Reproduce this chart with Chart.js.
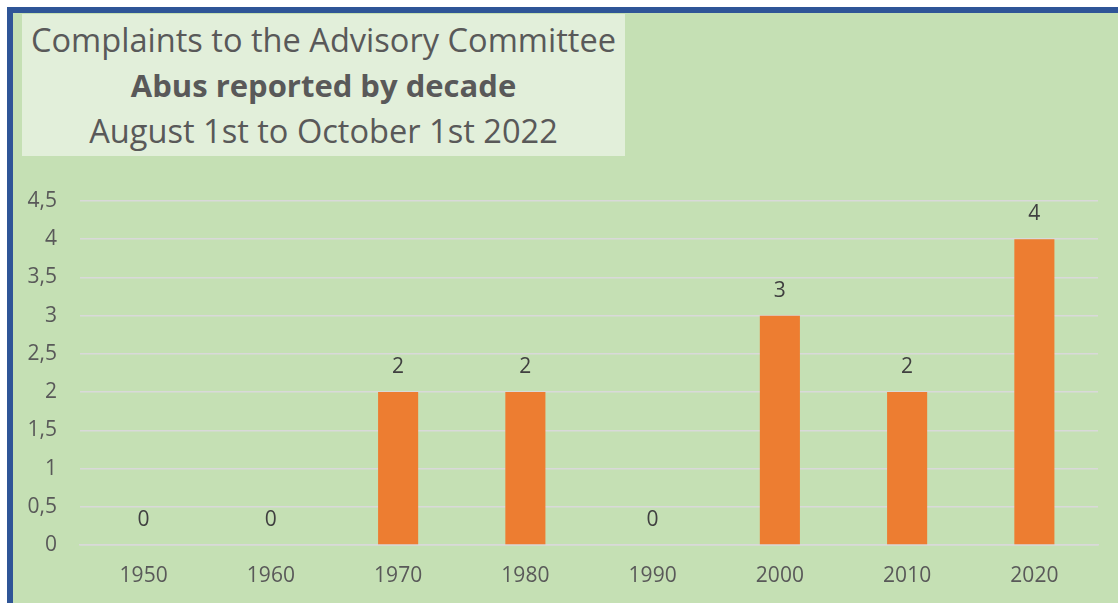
<!DOCTYPE html>
<html>
<head>
<meta charset="utf-8">
<script src="https://cdn.jsdelivr.net/npm/chart.js@4.4.0/dist/chart.umd.min.js"></script>
<style>
  html, body { margin: 0; padding: 0; background: #ffffff; }
  body { width: 1118px; height: 603px; position: relative; overflow: hidden; font-family: 'Open Sans', sans-serif; }
  #frame {
    position: absolute; left: 7px; top: 7px; right: -10px; bottom: -10px;
    background: #C5E0B4;
    border-left: 6px solid #2F5597;
    border-top: 6px solid #2F5597;
  }
  #titleBox {
    position: absolute; left: 22px; top: 14px; width: 603px; height: 142px;
    background: #E2EFDA; color: #595959; text-align: center;
  }
  #titleBox div { position: absolute; left: 0; right: 0; white-space: nowrap; line-height: 1.36; }
  #t1 { top: 4px; font-size: 32.6px; }
  #t2 { top: 50px; font-size: 31px; font-weight: bold; }
  #t3 { top: 95px; font-size: 32.6px; }
  #wrap { position: absolute; left: 0; top: 0; width: 1118px; height: 603px; }
</style>
</head>
<body>
<div id="frame"></div>
<div id="titleBox">
  <div id="t1">Complaints to the Advisory Committee</div>
  <div id="t2">Abus reported by decade</div>
  <div id="t3">August 1st to October 1st 2022</div>
</div>
<div id="wrap"><canvas id="chart" width="1118" height="603"></canvas></div>
<script>
// ── Data ─────────────────────────────────────────────────────
const decades = ['1950', '1960', '1970', '1980', '1990', '2000', '2010', '2020'];
const abuses  = [0, 0, 2, 2, 0, 3, 2, 4];
const yMax    = 4.5;
const yStep   = 0.5;

const COLORS = {
  bar:   '#ED7D31',
  grid:  '#D9D9D9',
  tick:  '#595959',
  label: '#404040',
};

// ── Data labels above each bar ───────────────────────────────
const valueLabels = {
  id: 'valueLabels',
  afterDatasetsDraw(chart) {
    const { ctx } = chart;
    const meta = chart.getDatasetMeta(0);
    ctx.save();
    ctx.font = "21px 'Open Sans', sans-serif";
    ctx.fillStyle = COLORS.label;
    ctx.textAlign = 'center';
    ctx.textBaseline = 'middle';
    meta.data.forEach((bar, i) => {
      ctx.fillText(String(abuses[i]), bar.x, bar.y - 25);
    });
    ctx.restore();
  },
};

new Chart(document.getElementById('chart'), {
  type: 'bar',
  data: {
    labels: decades,
    datasets: [{
      data: abuses,
      backgroundColor: COLORS.bar,
      borderWidth: 0,
      barPercentage: 0.315,
      categoryPercentage: 1,
    }],
  },
  options: {
    responsive: false,
    animation: false,
    layout: { padding: { left: 12, right: 20, top: 201, bottom: 0 } },
    plugins: { legend: { display: false }, tooltip: { enabled: false } },
    scales: {
      x: {
        grid: { display: false, drawTicks: false },
        border: { display: true, color: COLORS.grid, width: 1.5 },
        ticks: { color: COLORS.tick, font: { family: 'Open Sans', size: 21 }, padding: 18 },
        afterFit: (s) => { s.height = 58; },
      },
      y: {
        min: 0,
        max: yMax,
        grid: { color: COLORS.grid, lineWidth: 1.5, drawTicks: false },
        border: { display: false },
        ticks: {
          stepSize: yStep,
          color: COLORS.tick,
          font: { family: 'Open Sans', size: 21 },
          padding: 23,
          callback: (v) => String(v).replace('.', ','),
        },
        afterFit: (s) => { s.width = 68; },
      },
    },
  },
  plugins: [valueLabels],
});
</script>
</body>
</html>
